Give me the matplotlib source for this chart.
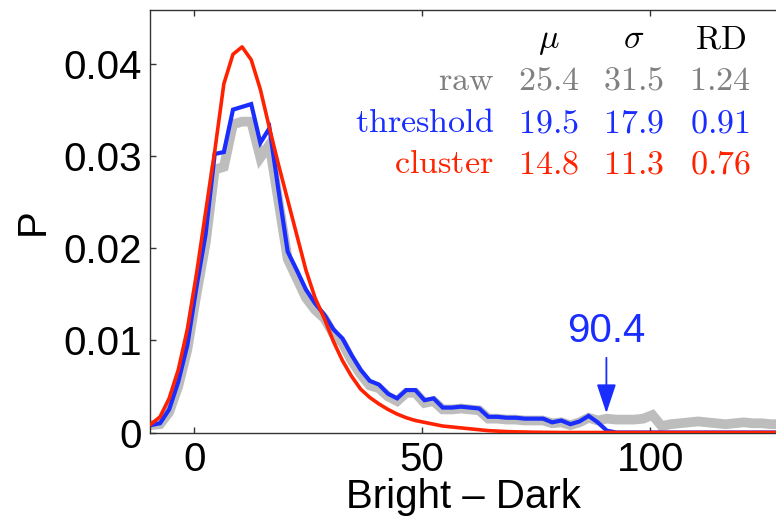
import numpy as np
import matplotlib
matplotlib.use("Agg")
import matplotlib.pyplot as plt

plt.rcParams['font.family'] = ['Liberation Sans', 'DejaVu Sans']
plt.rcParams['mathtext.fontset'] = 'cm'

# bin centres of the Bright - Dark histogram
bins = np.arange(-9.5, 130, 2.0)

raw = [0.0008, 0.0009, 0.0022, 0.0050, 0.0090, 0.0150, 0.0205, 0.0285, 0.0288, 0.0334,
       0.0337, 0.0337, 0.0298, 0.0312, 0.0250, 0.0188, 0.0167, 0.0146, 0.0133, 0.0124,
       0.0107, 0.0097, 0.0078, 0.0063, 0.0051, 0.0048, 0.0039, 0.0034, 0.0043, 0.0043,
       0.0032, 0.0034, 0.0025, 0.0025, 0.0026, 0.0025, 0.0024, 0.0015, 0.0015, 0.0014,
       0.0014, 0.0013, 0.0013, 0.0013, 0.0010, 0.0011, 0.0008, 0.0011, 0.0016, 0.0013,
       0.0015, 0.0014, 0.0014, 0.0014, 0.0015, 0.0019, 0.0007, 0.0009, 0.0010, 0.0011,
       0.0012, 0.0011, 0.0010, 0.0009, 0.0010, 0.0011, 0.0010, 0.0010, 0.0009, 0.0009]

threshold = [0.0008, 0.0010, 0.0025, 0.0055, 0.0095, 0.0158, 0.0215, 0.0302, 0.0304, 0.0350,
             0.0353, 0.0356, 0.0314, 0.0330, 0.0262, 0.0196, 0.0176, 0.0155, 0.0140, 0.0128,
             0.0112, 0.0102, 0.0084, 0.0068, 0.0056, 0.0052, 0.0042, 0.0037, 0.0046, 0.0046,
             0.0035, 0.0037, 0.0027, 0.0027, 0.0028, 0.0027, 0.0026, 0.0017, 0.0017, 0.0016,
             0.0016, 0.0015, 0.0015, 0.0015, 0.0011, 0.0013, 0.0009, 0.0012, 0.0018, 0.0011,
             0.0002, 0.0, 0.0, 0.0, 0.0, 0.0, 0.0, 0.0, 0.0, 0.0,
             0.0, 0.0, 0.0, 0.0, 0.0, 0.0, 0.0, 0.0, 0.0, 0.0]

cluster = [0.0009, 0.0017, 0.0037, 0.0068, 0.0112, 0.0172, 0.0239, 0.0305, 0.0378, 0.0410,
           0.0418, 0.0404, 0.0372, 0.0330, 0.0290, 0.0252, 0.0214, 0.0176, 0.0146, 0.0124,
           0.0099, 0.0078, 0.0061, 0.0047, 0.0038, 0.0031, 0.0025, 0.0020, 0.0016, 0.0013,
           0.0011, 0.0009, 0.0007, 0.0006, 0.0005, 0.0004, 0.0003, 0.0002, 0.00015, 0.0001,
           0.00007, 0.00005, 0.00003, 0.00002, 0.00001, 0.0, 0.0, 0.0, 0.0, 0.0,
           0.0, 0.0, 0.0, 0.0, 0.0, 0.0, 0.0, 0.0, 0.0, 0.0,
           0.0, 0.0, 0.0, 0.0, 0.0, 0.0, 0.0, 0.0, 0.0, 0.0]

# summary table: mean, std, RD per method
row_names = ['raw', 'threshold', 'cluster']
mu_vals = ['25.4', '19.5', '14.8']
sigma_vals = ['31.5', '17.9', '11.3']
rd_vals = ['1.24', '0.91', '0.76']

cutoff = 90.4

GRAY = '#bdbdbd'
GRAY_TXT = '#808080'
BLUE = '#1a2dff'
RED = '#ff2200'


def draw():
    fig = plt.figure(figsize=(7.76, 5.29), dpi=100)
    ax = fig.add_axes([150 / 776, 96.5 / 529, 626 / 776, 422.5 / 529])

    ax.plot(bins, raw, color=GRAY, lw=7, solid_joinstyle='miter', zorder=1)
    ax.plot(bins, threshold, color=BLUE, lw=3, solid_joinstyle='miter', zorder=2)
    ax.plot(bins, cluster, color=RED, lw=2.6, zorder=3)

    ax.set_xlim(-9.7, 127.6)
    ax.set_ylim(0, 0.0458)
    ax.set_xticks([0, 50, 100])
    ax.set_yticks([0, 0.01, 0.02, 0.03, 0.04])
    ax.set_yticklabels(['0', '0.01', '0.02', '0.03', '0.04'])
    ax.tick_params(direction='in', length=4, width=1, labelsize=29,
                   top=True, right=False, pad=6, color='#333333', labelcolor='black')
    ax.spines['right'].set_visible(False)
    for side in ['left', 'top', 'bottom']:
        ax.spines[side].set_linewidth(1)
        ax.spines[side].set_color('#333333')

    ax.set_xlabel('Bright \u2013 Dark', fontsize=29)
    ax.xaxis.set_label_coords(0.5, -0.107)
    ax.set_ylabel('P', fontsize=29, labelpad=8)

    # arrow marking the threshold cutoff
    ax.annotate('', xy=(cutoff, 0.0021), xytext=(cutoff, 0.0081),
                arrowprops=dict(arrowstyle='-|>,head_length=0.9,head_width=0.3',
                                mutation_scale=20, color=BLUE, lw=1.3,
                                shrinkA=0, shrinkB=0))
    ax.text(cutoff, 0.0089, f'{cutoff}', color=BLUE, fontsize=29,
            ha='center', va='bottom')

    # table of statistics
    col_x = [0.637, 0.773, 0.911]
    row_y = [0.8107, 0.711, 0.614]
    colors = [GRAY_TXT, BLUE, RED]
    fs = 24.5
    for x, head in zip(col_x, [r'$\mu$', r'$\sigma$', r'$\mathrm{RD}$']):
        ax.text(x, 0.910, head, transform=ax.transAxes, fontsize=fs,
                ha='center', va='baseline', color='black')
    for i, name in enumerate(row_names):
        ax.text(0.5495, row_y[i], r'$\mathrm{%s}$' % name, transform=ax.transAxes,
                fontsize=fs, ha='right', va='baseline', color=colors[i])
        for x, v in zip(col_x, [mu_vals[i], sigma_vals[i], rd_vals[i]]):
            ax.text(x, row_y[i], '$%s$' % v, transform=ax.transAxes,
                    fontsize=fs, ha='center', va='baseline', color=colors[i])

    fig.savefig('out.png', dpi=100)


if __name__ == '__main__':
    draw()
